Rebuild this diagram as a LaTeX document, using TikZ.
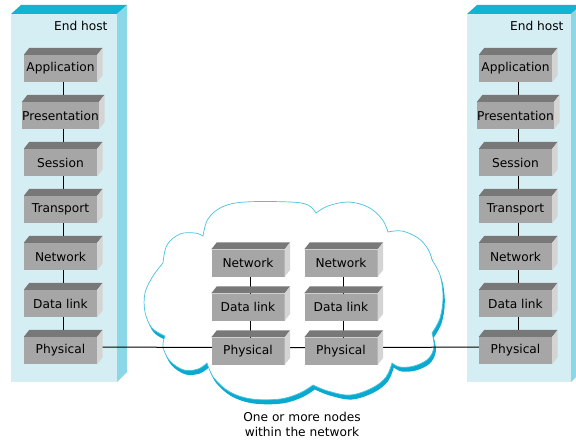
\documentclass[tikz,border=0pt]{standalone}
\usepackage{fontspec}
\setmainfont{DejaVu Sans}
\pgfdeclarelayer{back}
\pgfdeclarelayer{mid}
\pgfsetlayers{back,mid,main}
\definecolor{slabfront}{RGB}{213,238,243}
\definecolor{slabtop}{RGB}{20,178,212}
\definecolor{slabside}{RGB}{140,215,231}
\definecolor{boxfront}{RGB}{166,166,166}
\definecolor{boxtop}{RGB}{120,120,120}
\definecolor{boxside}{RGB}{212,212,212}
\definecolor{cloudline}{RGB}{70,195,222}
\definecolor{cloudthick}{RGB}{10,170,208}
\newcommand\cloudoutline{%
plot[smooth,tension=0.6] coordinates {(163,263) (167,245) (180,234) (195,233) (203,236)}
-- plot[smooth,tension=0.6] coordinates {(203,236) (208,219) (222,207) (245,202) (290,202) (308,205) (316,213)}
-- plot[smooth,tension=0.6] coordinates {(316,213) (328,206) (348,202) (368,207) (382,219) (388,232)}
-- plot[smooth,tension=0.6] coordinates {(388,232) (402,231) (418,238) (428,249) (432,260)}
-- plot[smooth,tension=0.6] coordinates {(432,260) (440,275) (443,297) (440,318) (432,333)}
-- plot[smooth,tension=0.6] coordinates {(432,333) (434,347) (428,359) (414,366) (400,367) (392,363)}
-- plot[smooth,tension=0.6] coordinates {(392,363) (386,377) (372,388) (350,395) (328,391) (313,385)}
-- plot[smooth,tension=0.6] coordinates {(313,385) (300,393) (280,399) (252,399) (230,392) (214,378) (207,363)}
-- plot[smooth,tension=0.6] coordinates {(207,363) (198,369) (184,370) (170,361) (163,347) (165,336)}
-- plot[smooth,tension=0.6] coordinates {(165,336) (152,328) (145,312) (145,293) (153,276) (163,263)}}
\tikzset{
  txt/.style={font=\fontsize{12.2}{15}\selectfont},
  layerbox/.style={rectangle, fill=boxfront, minimum width=73pt, minimum height=27pt, inner sep=0pt, txt},
  link/.style={line width=1pt, draw=black},
  cshift/.style={shift={(2.75pt,3.5pt)}}
}
\begin{document}
\begin{tikzpicture}[x=1pt,y=-1pt]
\useasboundingbox (0,0) rectangle (576,441);
% end host slabs
\begin{pgfonlayer}{back}
\foreach \xl/\xr in {11/117, 467/571} {
  \fill[slabfront] (\xl,14) rectangle (\xr,382);
  \fill[slabtop] (\xl,14) -- (\xl+10,5) -- (\xr+10,5) -- (\xr,14) -- cycle;
  \fill[slabside] (\xr,14) -- (\xr+10,5) -- (\xr+10,372) -- (\xr,382) -- cycle;
}
% cloud
\begin{scope}[shift={(1.8pt,-4.5pt)}]
  \fill[cloudthick] \cloudoutline -- cycle;
\end{scope}
\filldraw[fill=white, draw=cloudline, line width=0.7pt] \cloudoutline -- cycle;
\end{pgfonlayer}
% labels
\node[txt, anchor=east] (lhost) at (111,26) {End host};
\node[txt, anchor=east] (rhost) at (567,26) {End host};
% host stacks
\foreach \t/\n [count=\i from 0] in {Application/app, Presentation/pre, Session/ses, Transport/tra, Network/net, Data link/dl, Physical/phy} {
  \node[layerbox] (l\n) at (60.5,{68.5+47*\i}) {\t};
  \node[layerbox] (r\n) at (515.5,{68.5+47*\i}) {\t};
}
% network nodes
\foreach \t/\n [count=\i from 0] in {Network/net, Data link/dl, Physical/phy} {
  \node[layerbox] (a\n) at (248,{263+44*\i}) {\t};
  \node[layerbox] (b\n) at (341,{263+44*\i}) {\t};
}
% 3D faces
\foreach \n in {lapp,lpre,lses,ltra,lnet,ldl,lphy,rapp,rpre,rses,rtra,rnet,rdl,rphy,anet,adl,aphy,bnet,bdl,bphy} {
  \fill[boxtop] (\n.north west) -- ++(5.5pt,7pt) -- ([shift={(5.5pt,7pt)}]\n.north east) -- (\n.north east) -- cycle;
  \fill[boxside] (\n.north east) -- ++(5.5pt,7pt) -- ([shift={(5.5pt,7pt)}]\n.south east) -- (\n.south east) -- cycle;
}
% connectors
\begin{pgfonlayer}{mid}
\foreach \s in {l,r} {
  \draw[link] ([cshift]\s app.center) -- ([cshift]\s pre.center) -- ([cshift]\s ses.center) -- ([cshift]\s tra.center) -- ([cshift]\s net.center) -- ([cshift]\s dl.center) -- ([cshift]\s phy.center);
}
\foreach \s in {a,b} {
  \draw[link] ([cshift]\s net.center) -- ([cshift]\s dl.center) -- ([cshift]\s phy.center);
}
\draw[link] ([cshift]lphy.center) -- ([cshift]aphy.center) -- ([cshift]bphy.center) -- ([cshift]rphy.center);
\end{pgfonlayer}
% caption
\node[txt, align=center] (caption) at (302,424.5) {One or more nodes\\within the network};
\end{tikzpicture}
\end{document}
